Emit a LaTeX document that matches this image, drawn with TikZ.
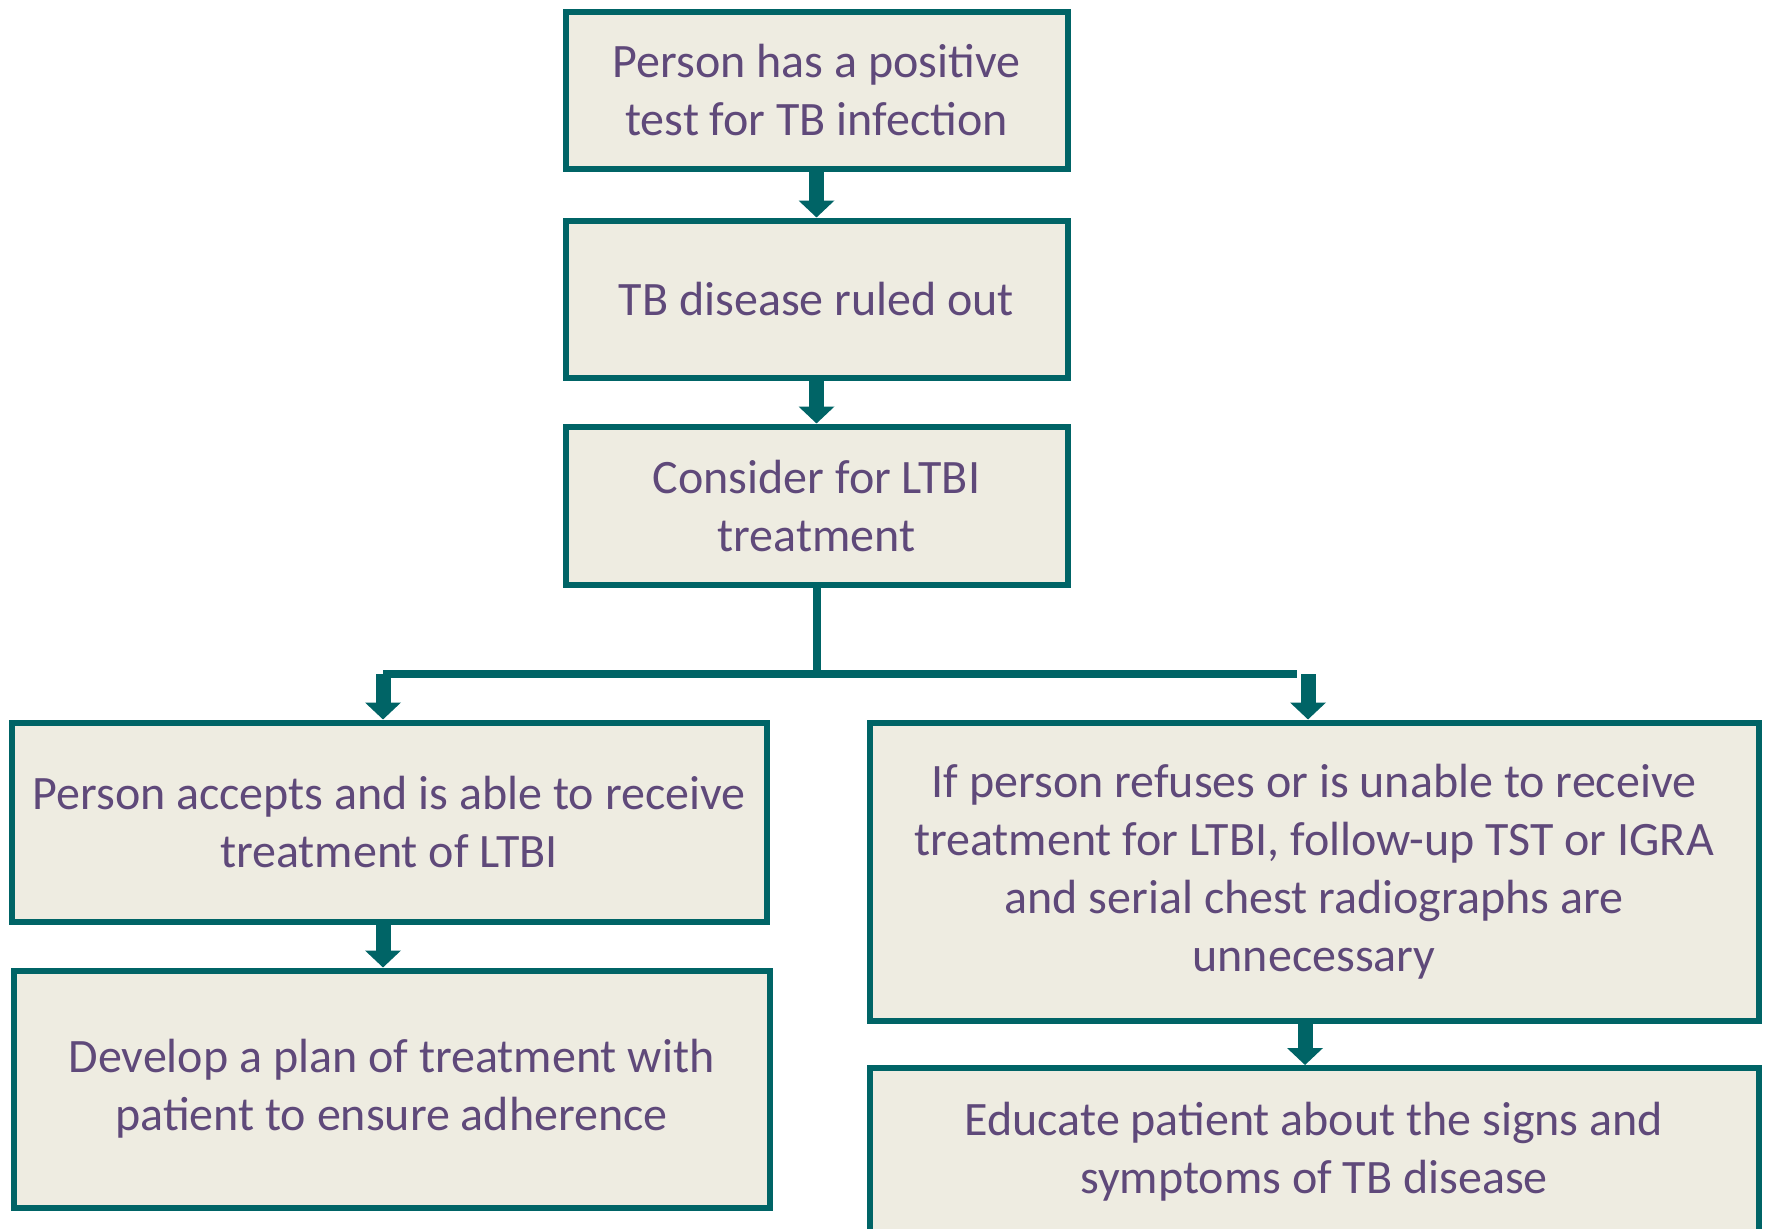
\documentclass[tikz,border=0pt]{standalone}
\usepackage{fontspec}
\setmainfont{Carlito}
\usetikzlibrary{arrows.meta}
\definecolor{tbteal}{RGB}{0,100,102}
\definecolor{tbfill}{RGB}{238,236,225}
\definecolor{tbtext}{RGB}{95,73,122}
\tikzset{
	box/.style={draw=tbteal, fill=tbfill, line width=3pt, text=tbtext, align=center,
		font=\fontsize{24}{29}\selectfont, inner sep=0pt},
	flow/.style={draw=tbteal, line width=7.5pt, -{Triangle[width=17.5pt,length=8.5pt]}},
	branch/.style={draw=tbteal, line width=4pt}
}
\begin{document}
\begin{tikzpicture}[x=0.5pt,y=-0.5pt]
				\useasboundingbox (0,0) rectangle (1767,1228);
				\node[box, minimum width=251pt, minimum height=78.5pt, at={(816.5,90)}] (positive) {Person has a positive\\test for TB infection};
				\node[box, minimum width=251pt, minimum height=78.5pt, at={(816.5,299)}] (ruledout) {TB disease ruled out};
				\node[box, minimum width=251pt, minimum height=79pt, at={(816.5,505.5)}] (consider) {Consider for LTBI\\treatment};
				\node[box, minimum width=377.5pt, minimum height=99.5pt, at={(389,822)}] (accepts) {Person accepts and is able to receive\\treatment of LTBI};
				\node[box, minimum width=378pt, minimum height=118.5pt, at={(391.5,1089)}] (plan) {Develop a plan of treatment with\\patient to ensure adherence};
				\node[box, minimum width=444.5pt, minimum height=149pt, at={(1314,871.5)}] (refuses) {If person refuses or is unable to receive\\treatment for LTBI, follow-up TST or IGRA\\and serial chest radiographs are\\unnecessary};
				\node[box, minimum width=444.5pt, minimum height=84pt, at={(1314,1152)}] (educate) {Educate patient about the signs and\\symptoms of TB disease};
				% branch under consider
				\coordinate (fork) at (816.5,674);
				\coordinate (forkL) at (383,674);
				\coordinate (forkR) at (1297,674);
				\coordinate (dropR) at (1308,674);
				\draw[branch] (consider.south) -- (fork);
				\draw[branch] (forkL) -- (forkR);
				% arrows
				\draw[flow] (positive) -- (ruledout);
				\draw[flow] (ruledout) -- (consider);
				\draw[flow] (forkL) -- (forkL |- accepts.north);
				\draw[flow] (dropR) -- (dropR |- refuses.north);
				\draw[flow] (accepts.south -| forkL) -- (forkL |- plan.north);
				\draw[flow] (refuses.south -| {(1305,0)}) -- ({(1305,0)} |- educate.north);
				\end{tikzpicture}
\end{document}
